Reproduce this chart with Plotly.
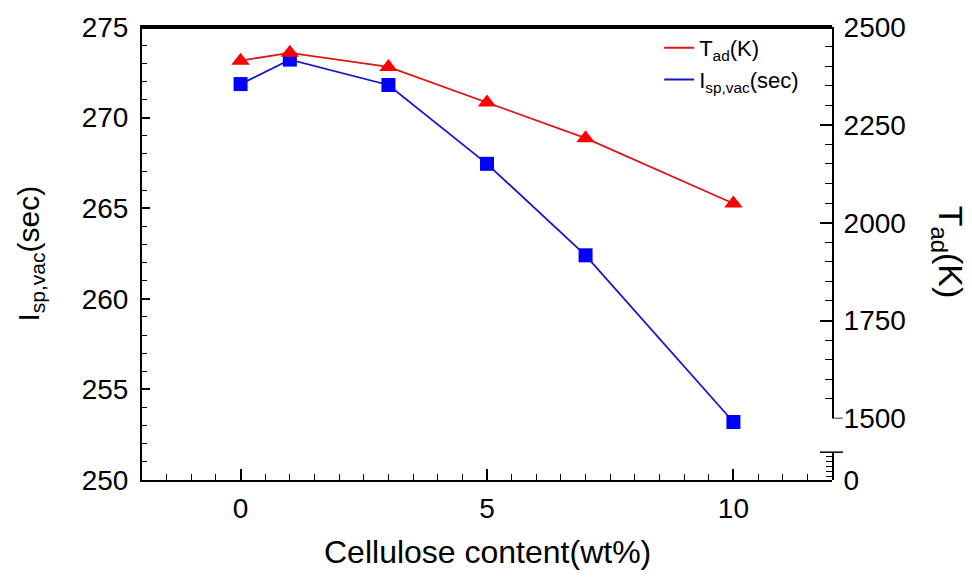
import plotly.graph_objects as go

# Data
cellulose = [0, 1, 3, 5, 7, 10]
isp_vac = [271.85, 273.2, 271.8, 267.45, 262.4, 253.2]
t_ad = [2414, 2434, 2398, 2307, 2216, 2049]

FONT = "Liberation Sans, Arial, sans-serif"
RED = "#ff0000"
BLUE = "#0000ff"
RED_LINE = "#e01515"
BLUE_LINE = "#1515d0"

fig = go.Figure()

fig.add_trace(go.Scatter(
    x=cellulose, y=t_ad, yaxis="y2", mode="lines+markers",
    line=dict(color=RED_LINE, width=1.8),
    marker=dict(symbol="triangle-up", size=16, color=RED),
    showlegend=False))
fig.add_trace(go.Scatter(
    x=cellulose, y=isp_vac, yaxis="y", mode="lines+markers",
    line=dict(color=BLUE_LINE, width=1.8),
    marker=dict(symbol="square", size=14, color=BLUE),
    showlegend=False))
# empty trace so the broken lower segment of the right axis is drawn
fig.add_trace(go.Scatter(x=[None], y=[None], yaxis="y3", mode="lines",
                         showlegend=False, hoverinfo="skip"))

# legend entries (lines only)
fig.add_trace(go.Scatter(x=[None], y=[None], mode="lines",
                         line=dict(color=RED_LINE, width=2),
                         name="T<sub>ad</sub>(K)"))
fig.add_trace(go.Scatter(x=[None], y=[None], mode="lines",
                         line=dict(color=BLUE_LINE, width=2),
                         name="I<sub>sp,vac</sub>(sec)"))

tickfont = dict(family=FONT, size=28, color="black")

fig.update_layout(
    width=972, height=579,
    margin=dict(l=142, r=140, t=24, b=99),
    paper_bgcolor="white", plot_bgcolor="rgba(0,0,0,0)",
    font=dict(family=FONT, color="black"),
    xaxis=dict(range=[-2, 12], tickvals=[0, 5, 10], ticks="inside", ticklen=11,
               tickwidth=1.5, tickcolor="black",
               minor=dict(dtick=0.5, tick0=0, ticks="inside", ticklen=6,
                          tickcolor="black", tickwidth=1.2),
               showline=True, linecolor="black", linewidth=2, mirror=True,
               showgrid=False, zeroline=False, tickfont=tickfont,
               ticklabelstandoff=2),
    yaxis=dict(range=[250, 275], dtick=5, tick0=250, ticks="inside", ticklen=8,
               tickwidth=1.5, tickcolor="black",
               minor=dict(dtick=1, ticks="inside", ticklen=5,
                          tickcolor="black", tickwidth=1.2),
               showline=True, linecolor="black", linewidth=2,
               showgrid=False, zeroline=False, tickfont=tickfont,
               ticklabelstandoff=6),
    yaxis2=dict(domain=[0.136, 1], anchor="x", side="right",
                range=[1500, 2500], dtick=250, tick0=1500, ticks="inside",
                ticklen=12, tickwidth=1.5, tickcolor="black",
                minor=dict(dtick=50, ticks="inside", ticklen=7,
                           tickcolor="black", tickwidth=1.2),
                showline=True, linecolor="black", linewidth=2,
                showgrid=False, zeroline=False, tickfont=tickfont,
                ticklabelstandoff=4),
    yaxis3=dict(domain=[0, 0.0614], anchor="x", side="right",
                range=[0, 5.6], tickvals=[0], ticktext=["0"], ticks="inside",
                ticklen=12, tickwidth=1.5, tickcolor="black",
                minor=dict(tick0=1.7, dtick=1, ticks="inside", ticklen=6,
                           tickcolor="black", tickwidth=1.2),
                showline=True, linecolor="black", linewidth=2,
                showgrid=False, zeroline=False, tickfont=tickfont,
                ticklabelstandoff=4),
    legend=dict(x=0.7495, y=1.0, xanchor="left", yanchor="top",
                bgcolor="rgba(0,0,0,0)", font=dict(family=FONT, size=22)),
    shapes=[
        # top frame line
        dict(type="line", xref="paper", yref="paper", layer="above",
             x0=0, x1=1, y0=0.998, y1=0.998,
             line=dict(color="black", width=2)),
        # cap of the lower (broken) right-axis segment
        dict(type="line", xref="paper", yref="y3 domain",
             x0=0.9826, x1=1.0159, y0=1, y1=1,
             line=dict(color="black", width=1.5)),
        # cap at 1500 on the upper right-axis segment
        dict(type="line", xref="paper", yref="y2",
             x0=1.0, x1=1.0159, y0=1500, y1=1500,
             line=dict(color="black", width=1.5)),
    ],
    annotations=[
        dict(text="Cellulose content(wt%)", xref="paper", yref="paper",
             x=0.5, y=-0.16, showarrow=False, xanchor="center", yanchor="middle",
             font=dict(family=FONT, size=32)),
        dict(text="I<sub>sp,vac</sub>(sec)", xref="paper", yref="paper",
             x=-0.1623, y=0.5, showarrow=False, textangle=-90,
             xanchor="center", yanchor="middle",
             font=dict(family=FONT, size=30)),
        dict(text="T<sub>ad</sub>(K)", xref="paper", yref="paper",
             x=1.168, y=0.502, showarrow=False, textangle=90,
             xanchor="center", yanchor="middle",
             font=dict(family=FONT, size=34)),
    ],
)

fig.write_html("out.html")
